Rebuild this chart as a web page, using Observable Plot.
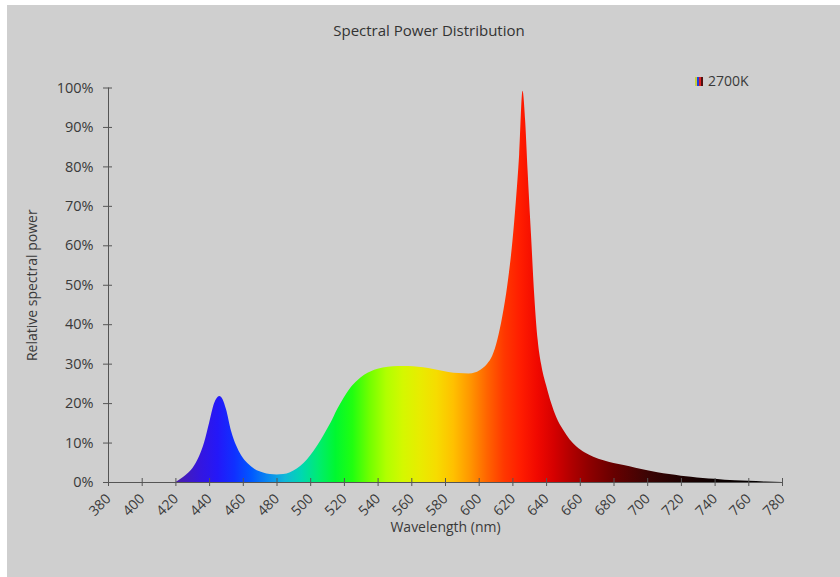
<!DOCTYPE html>
<html>
<head>
<meta charset="utf-8">
<script src="https://cdn.jsdelivr.net/npm/d3@7"></script>
<script src="https://cdn.jsdelivr.net/npm/@observablehq/plot@0.6"></script>
<style>
  html, body { margin: 0; padding: 0; background: #ffffff; }
  #wrap { position: relative; width: 840px; height: 577px; overflow: hidden; font-family: "Open Sans", sans-serif; }
  #panel { position: absolute; left: 7px; top: 5px; width: 833px; height: 572px; background: #cfcfcf; }
  #title { position: absolute; left: 0; top: 0; width: 858px; height: 60px; line-height: 61px; text-align: center; font-size: 15px; color: #333333; }
  #chart { position: absolute; left: 0; top: 60px; }
</style>
</head>
<body>
<div id="wrap">
  <div id="panel"></div>
  <div id="title">Spectral Power Distribution</div>
  <div id="chart"></div>
</div>
<script>
// ---- data ----
const seriesName = "2700K";
const xLabel = "Wavelength (nm)";
const yLabel = "Relative spectral power";
const wavelength = [420,423,426,430,434,437,440,443,446,448,450,453,456,459,463,467,472,476,480,484,488,492,496,500,504,508,512,516,520,524,528,532,536,540,546,552,558,564,570,576,582,588,594,598,602,605,608,611,614,617,620,622,624,626,627.5,629,631,633,635,637,640,643,646,650,654,658,663,668,674,680,686,693,700,706,713,720,726,733,740,746,752,760,770,780];
const power = [0,0.8,1.8,3.5,6.5,10,15,20,21.8,21,18.5,13,9.3,6.8,4.7,3.3,2.4,2.0,1.9,2.0,2.5,3.4,4.8,6.8,9.2,12,15,18.5,21.5,24,25.8,27.2,28.1,28.7,29.2,29.4,29.4,29.2,28.9,28.4,27.9,27.6,27.5,27.8,28.8,30,32,36,42,50,61,71,83,99.2,92,79,63,47,36,30,24.5,20,16.5,13.3,10.8,9,7.5,6.4,5.5,4.8,4.3,3.6,3.0,2.5,2.0,1.6,1.3,1.0,0.8,0.6,0.45,0.3,0.12,0];
const xTicks = [380,400,420,440,460,480,500,520,540,560,580,600,620,640,660,680,700,720,740,760,780];
const yTicks = [0,10,20,30,40,50,60,70,80,90,100];

// ---- styles ----
const spectrumStops = [
  [380,"#3a1478"],[420,"#4a1ea8"],[435,"#3416e0"],[445,"#2418f8"],[455,"#1030ff"],[465,"#0058ff"],
  [475,"#0a88f0"],[485,"#10b8d8"],[495,"#00d8b0"],[505,"#00ec70"],[515,"#00f830"],[525,"#20ff10"],
  [535,"#70ff00"],[545,"#b0ff00"],[555,"#d4f800"],[565,"#e8ec00"],[575,"#f6dc00"],[585,"#ffc000"],
  [595,"#ff9600"],[605,"#ff6400"],[615,"#ff3800"],[625,"#ff1c00"],[635,"#f00800"],[645,"#d40000"],
  [655,"#b00000"],[665,"#900000"],[680,"#680000"],[700,"#3c0404"],[720,"#200202"],[740,"#0c0000"],[780,"#000000"]
];
const legendStops = [[0,"#c8d040"],[0.25,"#c8d040"],[0.25,"#2040e0"],[0.5,"#2040e0"],[0.5,"#e02020"],[0.75,"#e02020"],[0.75,"#501010"],[1,"#501010"]];
const axisColor = "#555555";
const textColor = "#3a3a3a";

const data = wavelength.map((w, i) => ({w, p: power[i]}));

function spectrumDefs(index, scales) {
  const [d0, d1] = scales.scales.x.domain;
  const defs = d3.create("svg:defs");
  const g = defs.append("linearGradient").attr("id", "spectrum")
    .attr("gradientUnits", "userSpaceOnUse")
    .attr("x1", scales.x(d0)).attr("x2", scales.x(d1)).attr("y1", 0).attr("y2", 0);
  for (const [nm, c] of spectrumStops) g.append("stop").attr("offset", (nm - d0) / (d1 - d0)).attr("stop-color", c);
  const lg = defs.append("linearGradient").attr("id", "legendswatch").attr("x1", 0).attr("x2", 1).attr("y1", 0).attr("y2", 0);
  for (const [o, c] of legendStops) lg.append("stop").attr("offset", o).attr("stop-color", c);
  return defs.node();
}

function legendMark(index, scales, values, dims) {
  const g = d3.create("svg:g");
  const x0 = dims.width - dims.marginRight - 87;
  const y0 = dims.marginTop - 10.5;
  g.append("rect").attr("x", x0).attr("y", y0).attr("width", 8).attr("height", 9).attr("fill", "url(#legendswatch)");
  g.append("text").attr("x", x0 + 13).attr("y", y0 + 4.5).attr("dy", "0.35em")
    .attr("text-anchor", "start").attr("fill", textColor).attr("font-size", 14).text(seriesName);
  return g.node();
}

const chart = Plot.plot({
  width: 840,
  height: 517,
  marginTop: 27.5,
  marginBottom: 95,
  marginLeft: 108,
  marginRight: 58,
  style: {background: "transparent", fontFamily: "'Open Sans', sans-serif", fontSize: "14px", color: textColor, overflow: "visible"},
  x: {domain: [380, 780]},
  y: {domain: [0, 100]},
  marks: [
    spectrumDefs,
    Plot.areaY(data, {x: "w", y: "p", fill: "url(#spectrum)", curve: "monotone-x"}),
    Plot.ruleY([0], {stroke: axisColor}),
    Plot.ruleX([380], {stroke: axisColor}),
    Plot.axisY({ticks: yTicks, tickSize: 9, dx: 4, tickFormat: () => "", label: null, stroke: axisColor}),
    Plot.axisY({ticks: yTicks, tickSize: 0, tickPadding: 15, tickFormat: d => d + "%", label: null, fill: textColor, fontSize: 14.5}),
    Plot.axisX({ticks: xTicks, tickSize: 8, dy: -4, tickFormat: () => "", label: null, stroke: axisColor}),
    Plot.axisX({ticks: xTicks, tickSize: 0, tickPadding: 14, tickRotate: -45, label: null, fill: textColor}),
    Plot.text([yLabel], {frameAnchor: "left", textAnchor: "middle", lineAnchor: "middle", dx: -76, rotate: -90, fill: textColor, fontSize: 14}),
    Plot.text([xLabel], {frameAnchor: "bottom", textAnchor: "middle", lineAnchor: "middle", dy: 45, fill: textColor, fontSize: 14}),
    legendMark
  ]
});
document.getElementById("chart").appendChild(chart);
</script>
</body>
</html>
